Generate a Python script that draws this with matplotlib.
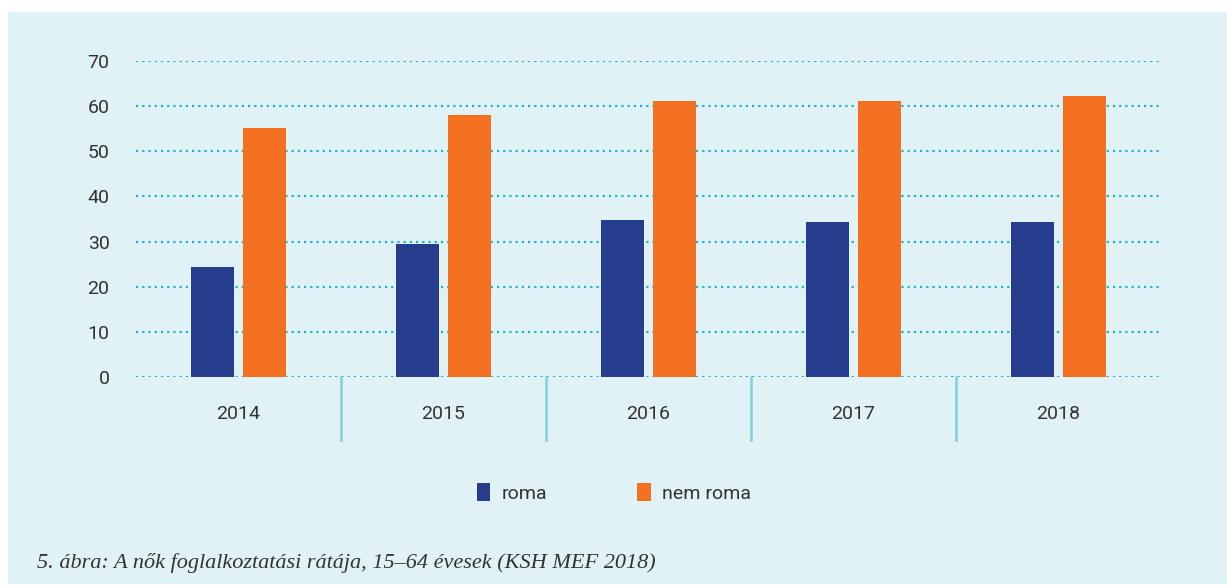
import matplotlib
matplotlib.use('Agg')
import matplotlib.pyplot as plt
from matplotlib.patches import Rectangle, Patch
import numpy as np

plt.rcParams.update({'font.family': 'Roboto', 'font.size': 14})

years = ['2014', '2015', '2016', '2017', '2018']
roma = [24.4, 29.5, 34.8, 34.3, 34.3]
nem_roma = [55.2, 58.0, 61.1, 61.1, 62.3]
yticks = [0, 10, 20, 30, 40, 50, 60, 70]
caption = '5. ábra: A nők foglalkoztatási rátája, 15–64 évesek (KSH MEF 2018)'

BG = '#e0f2f6'
NAVY = '#253d8c'
ORANGE = '#f37021'
GRID = '#1fb3c8'
SEP = '#7fd0e0'
TXT = '#333333'

W, H = 1227, 588
fig = plt.figure(figsize=(W / 100, H / 100), dpi=100, facecolor='white')

# light blue panel, behind everything
fig.patches.append(Rectangle((8 / W, 4 / H), 1 - 8 / W, 1 - 16 / H,
                             transform=fig.transFigure, facecolor=BG,
                             edgecolor='none', zorder=-10))

ax = fig.add_axes([136 / W, (H - 377) / H, (1161 - 136) / W, 316 / H])
ax.set_facecolor('none')

x = np.arange(len(years))
w = 0.21
off = 0.125
ax.bar(x - off, roma, w, color=NAVY, zorder=3)
ax.bar(x + off, nem_roma, w, color=ORANGE, zorder=3)

for y in yticks:
    ax.axhline(y, color=GRID, linewidth=1.6, dashes=(1, 1.8), zorder=1)

# separators between categories
xt = ax.get_xaxis_transform()
for b in x[:-1] + 0.5:
    ax.plot([b, b], [0, -0.2], color=SEP, linewidth=1.8, transform=xt,
            clip_on=False, zorder=2)

ax.set_xlim(-0.5, len(years) - 0.5)
ax.set_ylim(0, 70)
ax.set_yticks(yticks)
ax.set_xticks(x)
ax.set_xticklabels(years)
ax.tick_params(axis='both', length=0, colors=TXT, labelsize=14)
ax.tick_params(axis='y', pad=19)
ax.tick_params(axis='x', pad=20)
for s in ax.spines.values():
    s.set_visible(False)

handles = [Patch(facecolor=NAVY, label='roma'),
           Patch(facecolor=ORANGE, label='nem roma')]
fig.legend(handles=handles, loc='center', bbox_to_anchor=(614 / W, 1 - 493 / H),
           ncol=2, frameon=False, fontsize=14, handlelength=0.7, handleheight=1.0,
           handletextpad=0.6, columnspacing=4.6, labelcolor=TXT)

fig.text(37 / W, 1 - 563 / H, caption, family='Liberation Serif', style='italic',
         fontsize=16, color=TXT, ha='left', va='center')

fig.savefig('out.png', dpi=100, facecolor='white')
